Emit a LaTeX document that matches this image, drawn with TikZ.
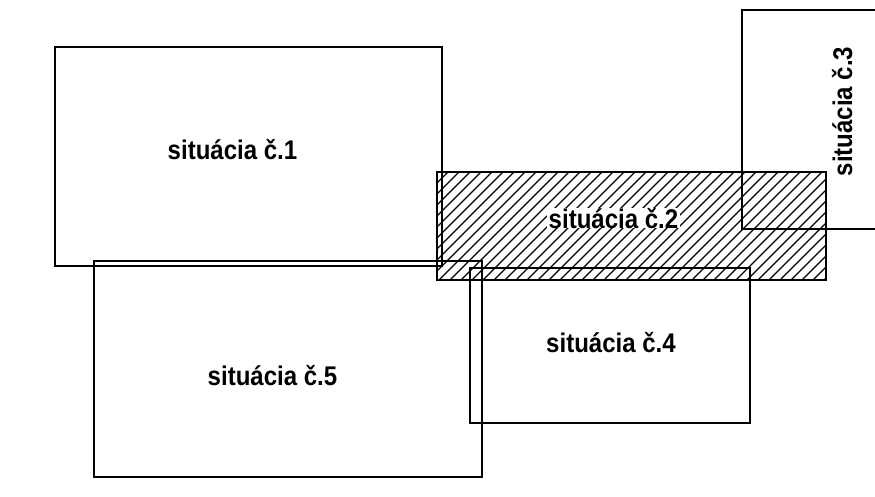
\documentclass[tikz,border=0pt]{standalone}
\usepackage{fontspec}
\setmainfont{Liberation Sans}
\begin{document}
\begin{tikzpicture}[x=1pt,y=-1pt,
  box/.style={draw=black,line width=1.3pt},
  lbl/.style={font=\fontsize{27}{30}\selectfont\bfseries,inner sep=0pt,anchor=base},
  hatchline/.style={line width=1.3pt}]
\useasboundingbox (0,0) rectangle (875,496);
% hatching of situation 2
\begin{scope}
  \clip (437,172) rectangle (826,280);
  \foreach \i in {0,...,46}{
    \draw[hatchline] (329+11*\i,280) -- ++(108,-108);
  }
\end{scope}
\begin{scope}
  \clip (0,0) rectangle (875,496);
  \draw[box] (742,10) rectangle (900,229);
\end{scope}
\draw[box] (55,47) rectangle (442,266);
\draw[box] (437,172) rectangle (826,280);
\draw[box] (470,268) rectangle (750,423);
\draw[box] (94,261) rectangle (482,477);
\node[lbl] (t1) at (232.5,159) {\scalebox{0.89}[1]{situácia č.1}};
\node[lbl,fill=white,inner xsep=2pt] (t2) at (613.5,228) {\scalebox{0.89}[1]{situácia č.2}};
\node[lbl,rotate=90] (t3) at (852,111.5) {\scalebox{0.89}[1]{situácia č.3}};
\node[lbl] (t4) at (611,352) {\scalebox{0.89}[1]{situácia č.4}};
\node[lbl] (t5) at (272.5,385) {\scalebox{0.89}[1]{situácia č.5}};
\end{tikzpicture}
\end{document}
